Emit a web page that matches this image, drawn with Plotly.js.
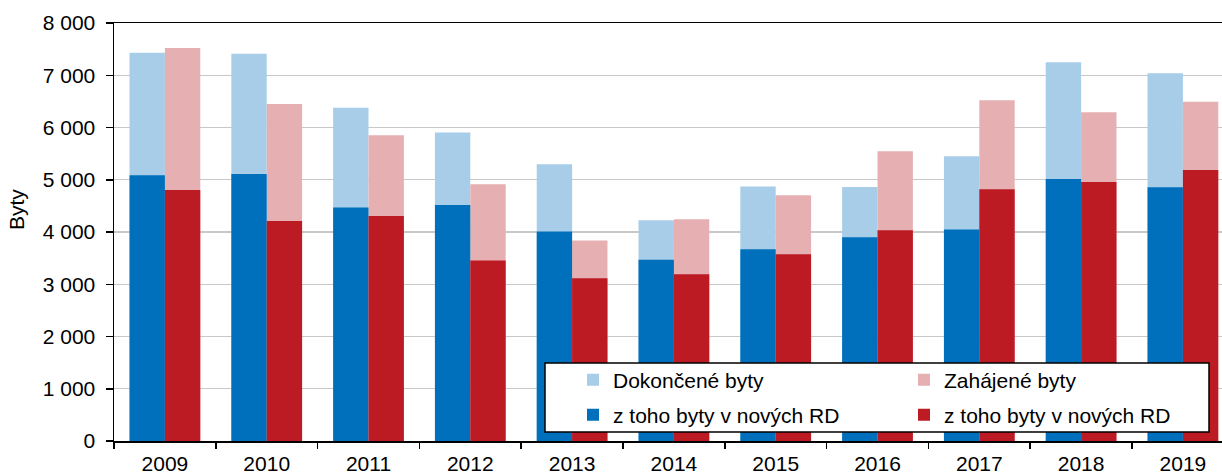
<!DOCTYPE html>
<html>
<head>
<meta charset="utf-8">
<script src="https://cdn.plot.ly/plotly-3.0.1.min.js"></script>
<style>html,body{margin:0;padding:0;background:#fff;}#chart{width:1222px;height:474px;}</style>
</head>
<body>
<div id="chart"></div>
<script>
const years = ['2009','2010','2011','2012','2013','2014','2015','2016','2017','2018','2019'];
const dokoncene   = [7432, 7413, 6380, 5902, 5296, 4226, 4870, 4863, 5449, 7247, 7036];
const dokonceneRD = [5086, 5111, 4468, 4518, 4010, 3467, 3671, 3901, 4048, 5016, 4857];
const zahajene    = [7520, 6450, 5851, 4914, 3837, 4245, 4704, 5545, 6520, 6291, 6495];
const zahajeneRD  = [4805, 4212, 4308, 3455, 3117, 3193, 3576, 4035, 4818, 4959, 5188];
const yTickVals = [0,1000,2000,3000,4000,5000,6000,7000,8000];

const FONT = 'Liberation Sans, Arial, sans-serif';
const W = 1222, H = 474;
const mL = 114, mR = 0, mT = 23, mB = 33;
const pw = W - mL - mR, ph = H - mT - mB;
const px = v => (v - mL) / pw;
const py = v => (H - mB - v) / ph;

const traces = [
  {type:'bar', name:'Dokončené byty', x:years, y:dokoncene, offsetgroup:'a',
   marker:{color:'#a7cde8', line:{width:0}}, legend:'legend', hoverinfo:'y+name'},
  {type:'bar', name:'Zahájené byty', x:years, y:zahajene, offsetgroup:'b',
   marker:{color:'#e6afb2', line:{width:0}}, legend:'legend', hoverinfo:'y+name'},
  {type:'bar', name:'z toho byty v nových RD', x:years, y:dokonceneRD, offsetgroup:'a',
   marker:{color:'#0070bd', line:{width:0}}, legend:'legend2', hoverinfo:'y+name'},
  {type:'bar', name:'z toho byty v nových RD', x:years, y:zahajeneRD, offsetgroup:'b',
   marker:{color:'#bd1b23', line:{width:0}}, legend:'legend2', hoverinfo:'y+name'}
];

const legendBase = {
  orientation:'h', xref:'paper', yref:'paper', xanchor:'left', yanchor:'middle',
  entrywidth:286, entrywidthmode:'pixels',
  font:{family:FONT, size:21, color:'#000'},
  bgcolor:'rgba(0,0,0,0)', borderwidth:0, itemclick:false, itemdoubleclick:false
};

const layout = {
  width:W, height:H,
  margin:{l:mL, r:mR, t:mT, b:mB, pad:0, autoexpand:false},
  paper_bgcolor:'#fff', plot_bgcolor:'#fff',
  font:{family:FONT, size:21, color:'#000'},
  separators:', ',
  barmode:'group', bargap:0.305, bargroupgap:0,
  showlegend:true,
  legend:Object.assign({}, legendBase, {x:px(573), y:py(380)}),
  legend2:Object.assign({}, legendBase, {x:px(573), y:py(415)}),
  xaxis:{
    type:'category', range:[-0.5, 10.384], tickson:'boundaries',
    ticks:'outside', ticklen:6, tickwidth:1.5, tickcolor:'#000',
    showline:true, linecolor:'#000', linewidth:1.5, mirror:true,
    showgrid:false, tickfont:{family:FONT, size:21, color:'#000'},
    ticklabelstandoff:3, automargin:false, fixedrange:true
  },
  yaxis:{
    range:[0,8000], tickvals:yTickVals, tickformat:',d',
    ticks:'outside', ticklen:7, tickwidth:1.5, tickcolor:'#000',
    showline:true, linecolor:'#000', linewidth:1.5,
    showgrid:true, gridcolor:'#c8c8c8', gridwidth:1.2, zeroline:false,
    tickfont:{family:FONT, size:21, color:'#000'}, ticklabelstandoff:6,
    automargin:false, fixedrange:true
  },
  shapes:[{
    type:'rect', xref:'paper', yref:'paper', layer:'above',
    x0:px(545), x1:px(1209), y0:py(432), y1:py(363),
    fillcolor:'#fff', line:{color:'#000', width:1.5}
  }],
  annotations:[{
    text:'Byty', xref:'paper', yref:'paper', x:px(17), y:py(210),
    xanchor:'center', yanchor:'middle', textangle:-90, showarrow:false,
    font:{family:FONT, size:21, color:'#000'}
  }]
};

Plotly.newPlot('chart', traces, layout, {displayModeBar:false, staticPlot:true});
</script>
</body>
</html>
